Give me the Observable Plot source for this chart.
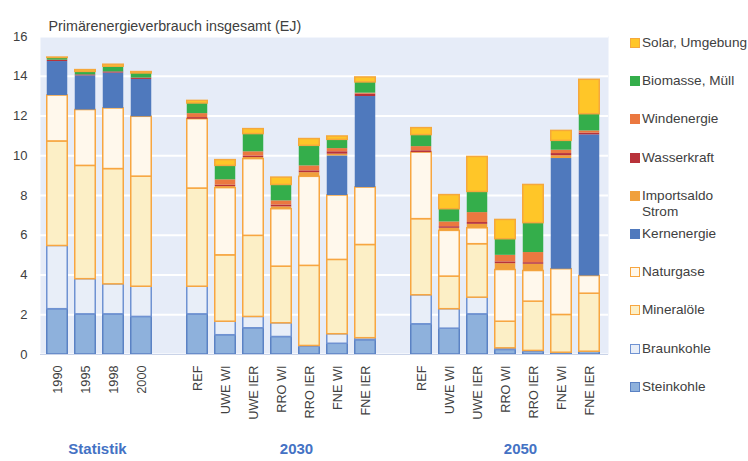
<!DOCTYPE html>
<html><head><meta charset="utf-8">
<script src="https://cdn.jsdelivr.net/npm/d3@7"></script>
<script src="https://cdn.jsdelivr.net/npm/@observablehq/plot@0.6"></script>
<style>
html,body{margin:0;padding:0;background:#fff;overflow:hidden;width:748px;height:461px}
#wrap{position:relative;width:748px;height:461px;font-family:"Liberation Sans",Arial,sans-serif}
.leg{position:absolute;left:630px;font-size:13.6px;color:#404040;white-space:nowrap;line-height:16px}
.sw{position:absolute;left:0;top:3px;width:8px;height:8px;border:1px solid}
.lt{position:absolute;left:12px;top:0}
</style></head><body><div id="wrap"></div>
<script>
const series = ["Steinkohle","Braunkohle","Mineralöle","Naturgase","Kernenergie","Importsaldo Strom","Wasserkraft","Windenergie","Biomasse, Müll","Solar, Umgebung"];
const fills   = ["#8eb1dc","#e8eef8","#fcefc6","#fff8ec","#4f79bd","#f0a03c","#b8323a","#eb7840","#34ae4b","#ffc628"];
const strokes = ["#5b82c4","#6f92d2","#f7a641","#f7a641",null,null,null,null,null,"#f5a83c"];

const categories = ["1990","1995","1998","2000",
  "2030|REF","2030|UWE WI","2030|UWE IER","2030|RRO WI","2030|RRO IER","2030|FNE WI","2030|FNE IER",
  "2050|REF","2050|UWE WI","2050|UWE IER","2050|RRO WI","2050|RRO IER","2050|FNE WI","2050|FNE IER"];
const xDomain = [...categories.slice(0,4),"gap1",...categories.slice(4,11),"gap2",...categories.slice(11)];

const steinkohle  = [2.28,2.02,2.02,1.89, 2.02,0.97,1.32,0.88,0.39,0.54,0.72, 1.52,1.30,2.02,0.23,0.14,0.09,0.14];
const braunkohle  = [3.18,1.77,1.51,1.52, 1.39,0.68,0.57,0.69,0.04,0.48,0.10, 1.46,0.98,0.84,0.08,0.04,0,0];
const mineraloele = [5.26,5.70,5.80,5.54, 4.94,3.34,4.08,2.85,4.03,3.74,4.69, 3.83,1.64,2.69,1.34,2.48,1.90,2.92];
const naturgase   = [2.31,2.81,3.05,3.01, 3.49,3.38,3.86,2.89,4.48,3.24,2.89, 3.35,2.30,0.80,2.60,1.54,2.30,0.89];
const kernenergie = [1.71,1.72,1.78,1.88, 0,0,0,0,0,1.99,4.58, 0,0,0,0,0,5.57,7.10];
const importsaldo = [0,0,0,0, 0,0.08,0.08,0.12,0.21,0.09,0, 0,0.13,0.20,0.32,0.34,0.14,0];
const wasserkraft = [0.07,0.05,0.06,0.07, 0.08,0.07,0.08,0.09,0.09,0.12,0.12, 0.09,0.08,0.09,0.09,0.08,0.11,0.09];
const windenergie = [0,0,0,0, 0.20,0.27,0.21,0.21,0.25,0.16,0.05, 0.21,0.24,0.50,0.33,0.51,0.17,0.11];
const biomasse    = [0.11,0.15,0.26,0.23, 0.51,0.70,0.89,0.80,1.01,0.44,0.54, 0.58,0.64,1.04,0.81,1.48,0.47,0.84];
const solar       = [0.02,0.09,0.10,0.07, 0.13,0.29,0.25,0.37,0.34,0.17,0.25, 0.35,0.71,1.76,0.97,1.92,0.50,1.73];

const yTicks = [0,2,4,6,8,10,12,14,16];
const title = "Primärenergieverbrauch insgesamt (EJ)";
const groupStat = [{label:"Statistik", at:"1995"}];
const groupsScen = [{label:"2030", at:"2030|RRO WI"},{label:"2050", at:"2050|RRO WI"}];

const valueArrays = [steinkohle,braunkohle,mineraloele,naturgase,kernenergie,importsaldo,wasserkraft,windenergie,biomasse,solar];
const data = [];
categories.forEach((c,i)=>{
  series.forEach((s,j)=>{
    const v = valueArrays[j][i];
    if (v > 0) data.push({cat:c, series:s, value:v, fill:fills[j], stroke:strokes[j] || "none"});
  });
});

const chart = Plot.plot({
  width:748, height:461,
  marginLeft:40, marginRight:140, marginTop:36, marginBottom:107,
  style:{fontFamily:"'Liberation Sans', Arial, sans-serif", fontSize:"13px", color:"#404040", background:"transparent", overflow:"visible"},
  x:{type:"band", domain:xDomain, range:[38,608], padding:0, paddingInner:0, paddingOuter:0, label:null},
  y:{domain:[0,16], label:null},
  color:{type:"identity"},
  marks:[
    Plot.frame({fill:"#e6ecf8", stroke:null}),
    Plot.gridY(yTicks, {stroke:"#ffffff", strokeOpacity:1, strokeWidth:2}),
    Plot.axisY(yTicks, {tickSize:0, tickPadding:13, fontSize:13, label:null}),
    Plot.axisX({tickSize:0, tickPadding:11, tickRotate:-90, fontSize:12.7, label:null,
      tickFormat: d => d.startsWith("gap") ? "" : (d.includes("|") ? d.split("|")[1] : d)}),
    Plot.barY(data, Plot.stackY({x:"cat", y:"value", z:"series", fill:"fill", stroke:"stroke", strokeWidth:1.5, order:null, insetLeft:3.75, insetRight:3.75})),
    Plot.ruleY([0], {stroke:"#c9d3e8", strokeWidth:1}),
    Plot.text(groupStat, {x:"at", text:"label", frameAnchor:"bottom", dx:12, dy:99, fill:"#4472c4", fontWeight:"bold", fontSize:15}),
    Plot.text(groupsScen, {x:"at", text:"label", frameAnchor:"bottom", dx:15, dy:99, fill:"#4472c4", fontWeight:"bold", fontSize:15}),
    Plot.text([title], {text:d=>d, frameAnchor:"top-left", dx:8, dy:-16, textAnchor:"start", fontSize:14.3, fill:"#404040"})
  ]
});
const wrap = document.getElementById("wrap");
wrap.appendChild(chart);

// legend
const legendOrder = series.map((s,j)=>j).reverse();
legendOrder.forEach((j,k)=>{
  const center = 43 + 38.2*k;
  const div = document.createElement("div");
  div.className = "leg";
  div.style.top = (center - 8) + "px";
  const sw = document.createElement("div");
  sw.className = "sw";
  sw.style.background = fills[j];
  sw.style.borderColor = strokes[j] || fills[j];
  const lt = document.createElement("div");
  lt.className = "lt";
  lt.innerHTML = series[j] === "Importsaldo Strom" ? "Importsaldo<br>Strom" : series[j];
  div.appendChild(sw); div.appendChild(lt);
  wrap.appendChild(div);
});
</script></body></html>
